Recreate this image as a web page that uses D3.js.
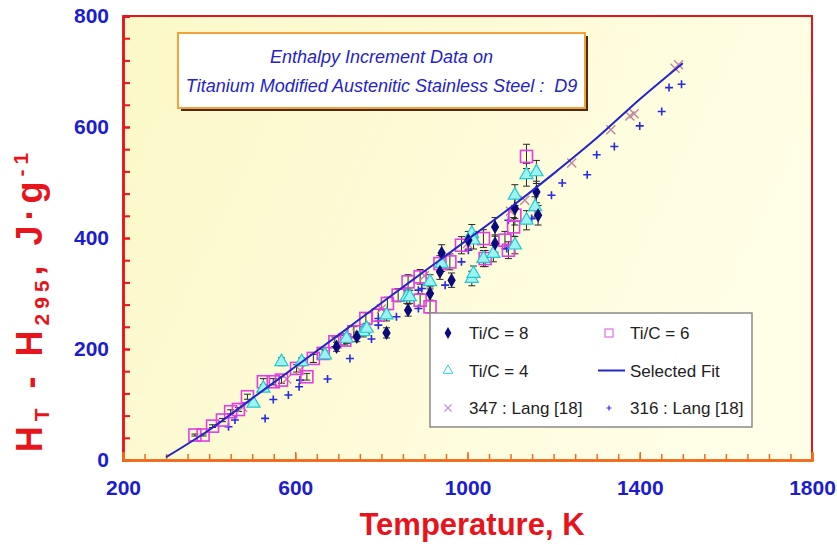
<!DOCTYPE html>
<html>
<head>
<meta charset="utf-8">
<script src="https://cdn.jsdelivr.net/npm/d3@7"></script>
<style>
  body { margin: 0; background: #fff; }
  text { font-family: "Liberation Sans", Arial, sans-serif; }
</style>
</head>
<body>
<div id="chart"></div>
<script>
// Ti/C = 8 (filled diamonds) [T (K), H_T - H_295 (J/g)]
const tiC8 = [
  [696, 204], [743, 222], [812, 229], [862, 270], [913, 300], [936, 339],
  [940, 373], [963, 324], [1002, 396], [1064, 390], [1064, 420], [1110, 453],
  [1164, 441], [1160, 483]
];
// Ti/C = 6 (open squares)
const tiC6 = [
  [367, 45], [386, 45], [408, 61], [431, 72], [450, 87], [468, 91], [489, 114],
  [526, 141], [549, 141], [568, 144], [603, 165], [627, 150], [642, 183],
  [665, 192], [692, 213], [715, 216], [736, 231], [764, 255], [793, 261],
  [814, 282], [839, 297], [862, 321], [890, 330], [890, 288], [913, 276],
  [936, 354], [959, 357], [986, 387], [1037, 399], [1041, 363], [1087, 396],
  [1095, 378], [1107, 420], [1110, 441], [1137, 547]
];
// Ti/C = 4 (triangles)
const tiC4 = [
  [503, 102], [526, 129], [568, 177], [615, 177], [669, 189], [719, 219],
  [758, 231], [766, 237], [812, 261], [859, 294], [866, 294], [913, 321],
  [940, 354], [1010, 408], [1010, 327], [1014, 396], [1014, 336], [1037, 363],
  [1060, 372], [1110, 387], [1110, 477], [1137, 432], [1137, 514], [1157, 456],
  [1160, 519]
];
// 347 : Lang [18]
const lang347 = [
  [478, 95], [580, 146], [611, 162], [743, 228], [800, 272], [900, 332],
  [1000, 390], [1100, 448], [1133, 468], [1242, 535], [1333, 595], [1377, 620],
  [1387, 624], [1482, 706], [1490, 712]
];
// 316 : Lang [18]
const lang316 = [
  [445, 60], [460, 72], [530, 75], [549, 109], [584, 117], [609, 132],
  [611, 144], [675, 146], [727, 183], [777, 218], [793, 243], [793, 255],
  [835, 258], [886, 273], [886, 306], [894, 309], [948, 315], [986, 357],
  [1002, 378], [1091, 381], [1095, 432], [1149, 435], [1195, 477], [1220, 499],
  [1278, 514], [1300, 550], [1341, 565], [1400, 602], [1451, 628], [1468, 671],
  [1497, 677]
];
// Selected fit
const selectedFit = [
  [300, 5], [400, 54], [500, 111], [600, 168], [700, 225], [800, 283],
  [900, 340], [1000, 397], [1100, 455], [1200, 516], [1300, 580],
  [1400, 650], [1500, 715]
];
const relErr = 0.04; // relative uncertainty shown on D9 points

const xTicks = [200, 600, 1000, 1400, 1800];
const yTicks = [0, 200, 400, 600, 800];

const margin = { top: 16, left: 123, right: 25, bottom: 85 };
const width = 837 - margin.left - margin.right;
const height = 545 - margin.top - margin.bottom;

const root = d3.select("#chart").append("svg")
  .attr("width", 837).attr("height", 545);

const defs = root.append("defs");
const grad = defs.append("linearGradient").attr("id", "bg")
  .attr("x1", "0%").attr("y1", "0%").attr("x2", "100%").attr("y2", "30%");
grad.append("stop").attr("offset", "0%").attr("stop-color", "#fbf8c8");
grad.append("stop").attr("offset", "100%").attr("stop-color", "#fffee6");

const svg = root.append("g")
  .attr("transform", `translate(${margin.left},${margin.top})`);

const x = d3.scaleLinear().domain([200, 1800]).range([0, width]);
const y = d3.scaleLinear().domain([0, 800]).range([height, 0]);

svg.append("rect").attr("width", width).attr("height", height)
  .attr("fill", "url(#bg)");

// frame: top and right red
svg.append("path")
  .attr("d", `M0,0H${width}V${height}`)
  .attr("fill", "none").attr("stroke", "#e8141c").attr("stroke-width", 2);

// y axis
const yMinor = svg.append("g")
  .call(d3.axisLeft(y).tickValues(d3.range(0, 801, 40)).tickSize(-7).tickFormat(""));
const yAxis = svg.append("g")
  .call(d3.axisLeft(y).tickValues(yTicks).tickSize(-7).tickPadding(14).tickFormat(d3.format("d")));
[yMinor, yAxis].forEach(g => {
  g.select(".domain").attr("stroke", "#e8141c").attr("stroke-width", 2.5);
  g.selectAll(".tick line").attr("stroke", "#e8141c").attr("stroke-width", 2);
});
yAxis.selectAll("text")
  .attr("fill", "#1c1cd0").style("font-size", "21px").style("font-weight", "bold");

// x axis
const xMinor = svg.append("g").attr("transform", `translate(0,${height})`)
  .call(d3.axisBottom(x).tickValues(d3.range(200, 1801, 50)).tickSize(-6).tickFormat(""));
const xAxis = svg.append("g").attr("transform", `translate(0,${height})`)
  .call(d3.axisBottom(x).tickValues(xTicks).tickSize(-8).tickPadding(20).tickFormat(d3.format("d")));
[xMinor, xAxis].forEach(g => {
  g.select(".domain").attr("stroke", "#f26a1e").attr("stroke-width", 2.5);
  g.selectAll(".tick line").attr("stroke", "#f26a1e").attr("stroke-width", 1.5);
});
xAxis.selectAll("text")
  .attr("fill", "#1c1cd0").style("font-size", "21px").style("font-weight", "bold");

// axis titles
root.append("text")
  .attr("x", 472).attr("y", 535)
  .attr("text-anchor", "middle")
  .attr("fill", "#e8141c").style("font-size", "31px").style("font-weight", "bold")
  .text("Temperature, K");

const yTitle = root.append("text")
  .attr("transform", "translate(42,300) rotate(-90)")
  .attr("text-anchor", "middle")
  .attr("fill", "#e8141c").style("font-size", "36px").style("font-weight", "bold")
  .style("letter-spacing", "5px");
yTitle.append("tspan").text("H");
yTitle.append("tspan").attr("dy", 7).style("font-size", "21px").text("T");
yTitle.append("tspan").attr("dy", -7).text(" - H");
yTitle.append("tspan").attr("dy", 7).style("font-size", "21px").text("295");
yTitle.append("tspan").attr("dy", -7).text(", J\u00b7g");
yTitle.append("tspan").attr("dy", -14).style("font-size", "21px").text("-1");

// error bars for D9 data
const d9 = [].concat(tiC8, tiC6, tiC4);
const eb = svg.append("g").attr("stroke", "#2a2a2a").attr("stroke-width", 1);
eb.selectAll("path").data(d9).join("path")
  .attr("d", d => {
    const cx = x(d[0]);
    const y0 = y(d[1] * (1 - relErr));
    const y1 = y(d[1] * (1 + relErr));
    return `M${cx},${y0}V${y1}M${cx - 3.5},${y0}H${cx + 3.5}M${cx - 3.5},${y1}H${cx + 3.5}`;
  });

// Lang data
svg.append("g").selectAll("path").data(lang316).join("path")
  .attr("transform", d => `translate(${x(d[0])},${y(d[1])})`)
  .attr("d", "M-4,0H4M0,-4V4")
  .attr("stroke", "#2a2ae0").attr("stroke-width", 1.6);
svg.append("g").selectAll("path").data(lang347).join("path")
  .attr("transform", d => `translate(${x(d[0])},${y(d[1])})`)
  .attr("d", "M-4.5,-4.5L4.5,4.5M-4.5,4.5L4.5,-4.5")
  .attr("stroke", "#c0889c").attr("stroke-width", 1.4);

// Ti/C = 6 squares
svg.append("g").selectAll("rect").data(tiC6).join("rect")
  .attr("x", d => x(d[0]) - 6).attr("y", d => y(d[1]) - 6)
  .attr("width", 12).attr("height", 12)
  .attr("fill", "none").attr("stroke", "#e23ee0").attr("stroke-width", 1.6);

// Ti/C = 4 triangles
const tri = d3.symbol().type(d3.symbolTriangle).size(75);
svg.append("g").selectAll("path").data(tiC4).join("path")
  .attr("transform", d => `translate(${x(d[0])},${y(d[1])})`)
  .attr("d", tri)
  .attr("fill", "#9ef2f0").attr("stroke", "#22c8d0").attr("stroke-width", 1.2);

// Ti/C = 8 diamonds
const dia = d3.symbol().type(d3.symbolDiamond).size(60);
svg.append("g").selectAll("path").data(tiC8).join("path")
  .attr("transform", d => `translate(${x(d[0])},${y(d[1])})`)
  .attr("d", dia)
  .attr("fill", "#0a0a78");

// selected fit
svg.append("path").datum(selectedFit)
  .attr("d", d3.line().x(d => x(d[0])).y(d => y(d[1])).curve(d3.curveMonotoneX))
  .attr("fill", "none").attr("stroke", "#2424c8").attr("stroke-width", 2);

// title box
const tb = root.append("g").attr("transform", "translate(178,33)");
tb.append("rect").attr("x", 3).attr("y", 3).attr("width", 407).attr("height", 75)
  .attr("fill", "#4a2c12");
tb.append("rect").attr("width", 407).attr("height", 75)
  .attr("fill", "#fff").attr("stroke", "#f2a238").attr("stroke-width", 2);
tb.selectAll("text")
  .data(["Enthalpy Increment Data on", "Titanium Modified Austenitic Stainless Steel :  D9"])
  .join("text")
  .attr("x", 203.5).attr("y", (d, i) => 30 + i * 29)
  .attr("text-anchor", "middle")
  .attr("fill", "#2424c8").style("font-size", "18px").style("font-style", "italic")
  .style("white-space", "pre")
  .text(d => d);

// legend
const lg = root.append("g").attr("transform", "translate(430,313)");
lg.append("rect").attr("width", 322).attr("height", 114)
  .attr("fill", "#fff").attr("stroke", "#8a8a8a").attr("stroke-width", 1.5);
const legendItems = [
  { label: "Ti/C = 8", col: 0, row: 0, kind: "diamond" },
  { label: "Ti/C = 6", col: 1, row: 0, kind: "square" },
  { label: "Ti/C = 4", col: 0, row: 1, kind: "triangle" },
  { label: "Selected Fit", col: 1, row: 1, kind: "line" },
  { label: "347 : Lang [18]", col: 0, row: 2, kind: "x" },
  { label: "316 : Lang [18]", col: 1, row: 2, kind: "plus" }
];
const li = lg.selectAll("g.item").data(legendItems).join("g")
  .attr("class", "item")
  .attr("transform", d => `translate(${d.col ? 179 : 18},${20 + d.row * 37.5})`);
li.each(function (d) {
  const g = d3.select(this);
  if (d.kind === "diamond") g.append("path").attr("d", d3.symbol().type(d3.symbolDiamond).size(40)).attr("fill", "#0a0a78");
  if (d.kind === "square") g.append("rect").attr("x", -4).attr("y", -4).attr("width", 8).attr("height", 8)
    .attr("fill", "none").attr("stroke", "#e26ee0").attr("stroke-width", 1.2);
  if (d.kind === "triangle") g.append("path").attr("d", d3.symbol().type(d3.symbolTriangle).size(40))
    .attr("fill", "none").attr("stroke", "#30d0d8").attr("stroke-width", 1);
  if (d.kind === "line") g.append("path").attr("d", "M-11,0H16").attr("stroke", "#2424c8").attr("stroke-width", 2);
  if (d.kind === "x") g.append("path").attr("d", "M-3.5,-3.5L3.5,3.5M-3.5,3.5L3.5,-3.5")
    .attr("stroke", "#c098d0").attr("stroke-width", 1.2);
  if (d.kind === "plus") g.append("path").attr("d", "M-2.5,0H2.5M0,-2.5V2.5")
    .attr("stroke", "#3030e0").attr("stroke-width", 1.2);
  g.append("text").attr("x", 21).attr("y", 6)
    .attr("fill", "#222").style("font-size", "17px").text(d.label);
});
</script>
</body>
</html>
